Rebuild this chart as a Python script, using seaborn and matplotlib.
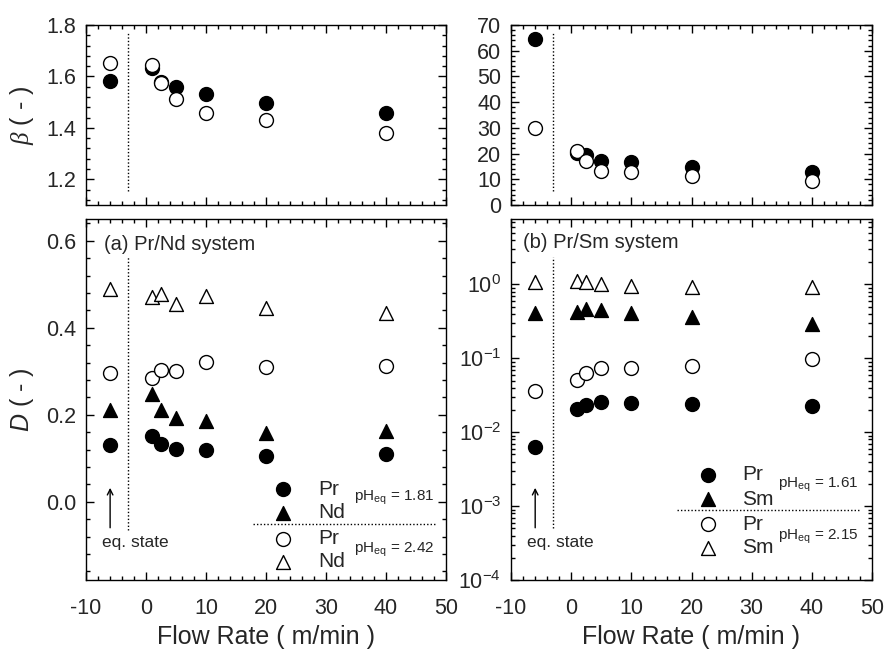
import numpy as np
import pandas as pd
import matplotlib
matplotlib.use('Agg')
import matplotlib.pyplot as plt
from matplotlib.ticker import MultipleLocator, LogLocator, NullFormatter
import seaborn as sns

# --- DATA ---
flow_rate = [-6, 1, 2.5, 5, 10, 20, 40]   # -6 = equilibrium state

# (a) Pr/Nd system
beta_nd_ph181 = [1.581, 1.632, 1.580, 1.557, 1.532, 1.497, 1.456]
beta_nd_ph242 = [1.652, 1.645, 1.574, 1.512, 1.458, 1.432, 1.381]
d_pr_ph181 = [0.130, 0.150, 0.132, 0.122, 0.119, 0.105, 0.109]
d_nd_ph181 = [0.211, 0.247, 0.211, 0.193, 0.185, 0.158, 0.163]
d_pr_ph242 = [0.295, 0.285, 0.302, 0.300, 0.322, 0.309, 0.312]
d_nd_ph242 = [0.489, 0.471, 0.478, 0.455, 0.472, 0.445, 0.434]

# (b) Pr/Sm system
beta_sm_ph161 = [64.4, 20.1, 19.4, 17.2, 16.8, 14.9, 12.7]
beta_sm_ph215 = [29.8, 21.1, 17.2, 13.3, 12.7, 11.2, 9.3]
d_pr_ph161 = [0.0064, 0.0206, 0.0234, 0.0259, 0.0249, 0.0241, 0.0224]
d_sm_ph161 = [0.415, 0.428, 0.460, 0.446, 0.415, 0.367, 0.289]
d_pr_ph215 = [0.0357, 0.0513, 0.063, 0.0752, 0.0752, 0.0792, 0.0975]
d_sm_ph215 = [1.07, 1.11, 1.09, 1.03, 0.95, 0.93, 0.93]

EQ_LINE_X = -3

# --- STYLE ---
sns.set_style('ticks')
plt.rcParams['font.family'] = ['Liberation Sans', 'DejaVu Sans']
plt.rcParams['axes.unicode_minus'] = False
plt.rcParams['mathtext.fontset'] = 'custom'
plt.rcParams['mathtext.rm'] = 'Liberation Sans'
plt.rcParams['mathtext.it'] = 'Liberation Sans:italic'
plt.rcParams['mathtext.cal'] = 'Liberation Serif:italic'

MS = 100


def draw_series(ax, values, marker, filled):
    df = pd.DataFrame({'flow': flow_rate, 'value': values})
    sns.scatterplot(data=df, x='flow', y='value', ax=ax, marker=marker, s=MS,
                    color='black' if filled else 'white', edgecolor='black',
                    linewidth=1, zorder=3, legend=False, clip_on=False)


def style_axes(ax, show_xlabels):
    ax.set_xlim(-10, 50)
    ax.xaxis.set_major_locator(MultipleLocator(10))
    ax.xaxis.set_minor_locator(MultipleLocator(2))
    ax.tick_params(which='both', direction='in', top=True, right=True,
                   width=1, color='black')
    ax.tick_params(which='major', length=6, labelsize=15.5)
    ax.tick_params(which='minor', length=3)
    ax.tick_params(axis='y', pad=7)
    ax.tick_params(axis='x', pad=13)
    for sp in ax.spines.values():
        sp.set_visible(True)
        sp.set_linewidth(1)
        sp.set_color('black')
    ax.set_xlabel('')
    ax.set_ylabel('')
    if not show_xlabels:
        ax.tick_params(axis='x', labelbottom=False)
    else:
        ax.set_xlabel('Flow Rate ( m/min )', fontsize=18)
        ax.xaxis.set_label_coords(0.5, -0.125)


def eq_state(ax):
    ax.annotate('', xy=(0.067, 0.263), xytext=(0.067, 0.137),
                xycoords='axes fraction',
                arrowprops=dict(arrowstyle='->', lw=1, color='black'))
    ax.text(0.044, 0.103, 'eq. state', transform=ax.transAxes, fontsize=12.5,
            ha='left', va='center')


def legend_block(ax, rows, ph_text, mx, tx, phx, line_y, line_x0, line_x1):
    for (ypos, marker, filled, label) in rows:
        ax.scatter([mx], [ypos], transform=ax.transAxes, marker=marker, s=MS,
                   color='black' if filled else 'white', edgecolor='black',
                   linewidth=1, clip_on=False, zorder=4)
        ax.text(tx, ypos, label, transform=ax.transAxes, fontsize=15,
                ha='left', va='center')
    for (ypos, txt) in ph_text:
        ax.text(phx, ypos, txt, transform=ax.transAxes, fontsize=11,
                ha='left', va='center')
    ax.plot([line_x0, line_x1], [line_y, line_y], transform=ax.transAxes,
            color='black', lw=1, linestyle=(0, (1, 1.5)))


fig = plt.figure(figsize=(8.85, 6.53), dpi=100)
W, H = 885, 653


def add_ax(x0, x1, y_top, y_bot):
    return fig.add_axes([x0 / W, 1 - y_bot / H, (x1 - x0) / W, (y_bot - y_top) / H])


ax_b1 = add_ax(86, 446, 25, 205)
ax_b2 = add_ax(511, 872, 25, 205)
ax_d1 = add_ax(86, 446, 219, 580)
ax_d2 = add_ax(511, 872, 219, 580)

# --- top-left: beta Pr/Nd ---
draw_series(ax_b1, beta_nd_ph181, 'o', True)
draw_series(ax_b1, beta_nd_ph242, 'o', False)
style_axes(ax_b1, False)
ax_b1.set_ylim(1.1, 1.8)
ax_b1.yaxis.set_major_locator(MultipleLocator(0.2))
ax_b1.yaxis.set_minor_locator(MultipleLocator(0.04))
ax_b1.set_ylabel(r'$\mathcal{\beta}$ ( - )', fontsize=18)
ax_b1.yaxis.set_label_coords(-0.138, 0.5)
ax_b1.plot([EQ_LINE_X, EQ_LINE_X], [1.154, 1.769], color='black', lw=1,
           linestyle=(0, (1, 1.5)))

# --- top-right: beta Pr/Sm ---
draw_series(ax_b2, beta_sm_ph161, 'o', True)
draw_series(ax_b2, beta_sm_ph215, 'o', False)
style_axes(ax_b2, False)
ax_b2.set_ylim(0, 70)
ax_b2.yaxis.set_major_locator(MultipleLocator(10))
ax_b2.yaxis.set_minor_locator(MultipleLocator(2))
ax_b2.plot([EQ_LINE_X, EQ_LINE_X], [5.4, 66.9], color='black', lw=1,
           linestyle=(0, (1, 1.5)))

# --- bottom-left: D Pr/Nd ---
draw_series(ax_d1, d_pr_ph181, 'o', True)
draw_series(ax_d1, d_nd_ph181, '^', True)
draw_series(ax_d1, d_pr_ph242, 'o', False)
draw_series(ax_d1, d_nd_ph242, '^', False)
style_axes(ax_d1, True)
ax_d1.set_ylim(-0.18, 0.65)
ax_d1.yaxis.set_major_locator(MultipleLocator(0.2))
ax_d1.yaxis.set_minor_locator(MultipleLocator(0.04))
ax_d1.set_ylabel(r'$D$ ( - )', fontsize=18)
ax_d1.yaxis.set_label_coords(-0.138, 0.5)
ax_d1.plot([EQ_LINE_X, EQ_LINE_X], [-0.064, 0.563], color='black', lw=1,
           linestyle=(0, (1, 1.5)))
ax_d1.text(0.05, 0.928, '(a) Pr/Nd system', transform=ax_d1.transAxes,
           fontsize=14.5, ha='left', va='center')
eq_state(ax_d1)
legend_block(ax_d1,
             [(0.252, 'o', True, 'Pr'), (0.186, '^', True, 'Nd'),
              (0.114, 'o', False, 'Pr'), (0.050, '^', False, 'Nd')],
             [(0.227, r'pH$_{\mathrm{eq}}$ = 1.81'), (0.083, r'pH$_{\mathrm{eq}}$ = 2.42')],
             0.547, 0.644, 0.744, 0.155, 0.464, 0.975)

# --- bottom-right: D Pr/Sm (log) ---
draw_series(ax_d2, d_pr_ph161, 'o', True)
draw_series(ax_d2, d_sm_ph161, '^', True)
draw_series(ax_d2, d_pr_ph215, 'o', False)
draw_series(ax_d2, d_sm_ph215, '^', False)
style_axes(ax_d2, True)
ax_d2.set_yscale('log')
ax_d2.set_ylim(1e-4, 7.7)
ax_d2.yaxis.set_major_locator(LogLocator(base=10, numticks=10))
ax_d2.yaxis.set_minor_locator(LogLocator(base=10, subs=np.arange(2, 10), numticks=10))
ax_d2.yaxis.set_minor_formatter(NullFormatter())
ax_d2.tick_params(which='both', direction='in', right=True)
ax_d2.plot([EQ_LINE_X, EQ_LINE_X], [5.1e-4, 2.38], color='black', lw=1,
           linestyle=(0, (1, 1.5)))
ax_d2.text(0.033, 0.934, '(b) Pr/Sm system', transform=ax_d2.transAxes,
           fontsize=14.5, ha='left', va='center')
eq_state(ax_d2)
legend_block(ax_d2,
             [(0.291, 'o', True, 'Pr'), (0.224, '^', True, 'Sm'),
              (0.155, 'o', False, 'Pr'), (0.089, '^', False, 'Sm')],
             [(0.263, r'pH$_{\mathrm{eq}}$ = 1.61'), (0.119, r'pH$_{\mathrm{eq}}$ = 2.15')],
             0.546, 0.640, 0.740, 0.194, 0.460, 0.967)

fig.savefig('out.png', dpi=100)
